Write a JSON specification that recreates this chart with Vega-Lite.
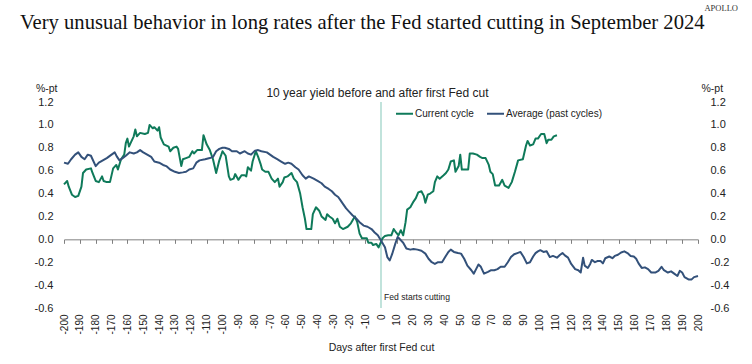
{
  "$schema": "https://vega.github.io/schema/vega-lite/v6.json",
  "width": 634,
  "height": 206,
  "autosize": {"type": "none"},
  "padding": {"left": 64, "top": 102, "right": 54, "bottom": 56},
  "background": "white",
  "config": {
    "view": {"stroke": null},
    "font": "Liberation Sans",
    "axis": {"grid": false, "labelColor": "#222222", "titleColor": "#222222", "titleFontWeight": "normal", "labelFont": "Liberation Sans", "titleFont": "Liberation Sans"}
  },
  "title": {
    "text": "Very unusual behavior in long rates after the Fed started cutting in September 2024",
    "font": "Liberation Serif",
    "fontSize": 20.6,
    "fontWeight": "normal",
    "color": "#111111",
    "anchor": "start",
    "frame": "group",
    "dx": -44,
    "offset": -30
  },
  "layer": [
    {
      "data": {"values": [{}]},
      "mark": {"type": "rule", "color": "#98d0c4", "strokeWidth": 1.2},
      "encoding": {
        "x": {
          "datum": 0,
          "type": "quantitative",
          "scale": {"domain": [-200, 200], "nice": false, "zero": false},
          "axis": {
            "orient": "bottom",
            "offset": -68.67,
            "labels": false,
            "title": null,
            "domain": true,
            "domainColor": "#808080",
            "domainWidth": 1,
            "ticks": true,
            "tickColor": "#808080",
            "tickSize": 4,
            "values": [-200,-190,-180,-170,-160,-150,-140,-130,-120,-110,-100,-90,-80,-70,-60,-50,-40,-30,-20,-10,0,10,20,30,40,50,60,70,80,90,100,110,120,130,140,150,160,170,180,190,200]
          }
        }
      }
    },
    {
      "data": {
        "values": [
          {"d": -200, "v": 0.48, "s": "Current cycle"},
          {"d": -198, "v": 0.51, "s": "Current cycle"},
          {"d": -197, "v": 0.46, "s": "Current cycle"},
          {"d": -195, "v": 0.39, "s": "Current cycle"},
          {"d": -193, "v": 0.37, "s": "Current cycle"},
          {"d": -191, "v": 0.38, "s": "Current cycle"},
          {"d": -189, "v": 0.46, "s": "Current cycle"},
          {"d": -188, "v": 0.58, "s": "Current cycle"},
          {"d": -186, "v": 0.61, "s": "Current cycle"},
          {"d": -183, "v": 0.62, "s": "Current cycle"},
          {"d": -182, "v": 0.58, "s": "Current cycle"},
          {"d": -180, "v": 0.51, "s": "Current cycle"},
          {"d": -178, "v": 0.50, "s": "Current cycle"},
          {"d": -176, "v": 0.55, "s": "Current cycle"},
          {"d": -175, "v": 0.51, "s": "Current cycle"},
          {"d": -173, "v": 0.50, "s": "Current cycle"},
          {"d": -171, "v": 0.50, "s": "Current cycle"},
          {"d": -169, "v": 0.62, "s": "Current cycle"},
          {"d": -167, "v": 0.65, "s": "Current cycle"},
          {"d": -166, "v": 0.61, "s": "Current cycle"},
          {"d": -164, "v": 0.70, "s": "Current cycle"},
          {"d": -162, "v": 0.74, "s": "Current cycle"},
          {"d": -161, "v": 0.84, "s": "Current cycle"},
          {"d": -160, "v": 0.88, "s": "Current cycle"},
          {"d": -159, "v": 0.81, "s": "Current cycle"},
          {"d": -158, "v": 0.84, "s": "Current cycle"},
          {"d": -156, "v": 0.90, "s": "Current cycle"},
          {"d": -155, "v": 0.96, "s": "Current cycle"},
          {"d": -154, "v": 0.90, "s": "Current cycle"},
          {"d": -152, "v": 0.93, "s": "Current cycle"},
          {"d": -149, "v": 0.92, "s": "Current cycle"},
          {"d": -147, "v": 0.93, "s": "Current cycle"},
          {"d": -146, "v": 1.00, "s": "Current cycle"},
          {"d": -144, "v": 0.97, "s": "Current cycle"},
          {"d": -143, "v": 0.98, "s": "Current cycle"},
          {"d": -141, "v": 0.95, "s": "Current cycle"},
          {"d": -140, "v": 0.98, "s": "Current cycle"},
          {"d": -139, "v": 0.89, "s": "Current cycle"},
          {"d": -137, "v": 0.83, "s": "Current cycle"},
          {"d": -134, "v": 0.81, "s": "Current cycle"},
          {"d": -133, "v": 0.77, "s": "Current cycle"},
          {"d": -131, "v": 0.80, "s": "Current cycle"},
          {"d": -129, "v": 0.81, "s": "Current cycle"},
          {"d": -128, "v": 0.79, "s": "Current cycle"},
          {"d": -126, "v": 0.64, "s": "Current cycle"},
          {"d": -125, "v": 0.70, "s": "Current cycle"},
          {"d": -123, "v": 0.71, "s": "Current cycle"},
          {"d": -121, "v": 0.72, "s": "Current cycle"},
          {"d": -119, "v": 0.77, "s": "Current cycle"},
          {"d": -118, "v": 0.75, "s": "Current cycle"},
          {"d": -116, "v": 0.78, "s": "Current cycle"},
          {"d": -113, "v": 0.78, "s": "Current cycle"},
          {"d": -112, "v": 0.91, "s": "Current cycle"},
          {"d": -110, "v": 0.83, "s": "Current cycle"},
          {"d": -108, "v": 0.78, "s": "Current cycle"},
          {"d": -106, "v": 0.70, "s": "Current cycle"},
          {"d": -104, "v": 0.58, "s": "Current cycle"},
          {"d": -102, "v": 0.69, "s": "Current cycle"},
          {"d": -100, "v": 0.77, "s": "Current cycle"},
          {"d": -98, "v": 0.73, "s": "Current cycle"},
          {"d": -96, "v": 0.55, "s": "Current cycle"},
          {"d": -95, "v": 0.52, "s": "Current cycle"},
          {"d": -93, "v": 0.53, "s": "Current cycle"},
          {"d": -92, "v": 0.57, "s": "Current cycle"},
          {"d": -90, "v": 0.52, "s": "Current cycle"},
          {"d": -88, "v": 0.56, "s": "Current cycle"},
          {"d": -86, "v": 0.56, "s": "Current cycle"},
          {"d": -85, "v": 0.55, "s": "Current cycle"},
          {"d": -84, "v": 0.63, "s": "Current cycle"},
          {"d": -82, "v": 0.60, "s": "Current cycle"},
          {"d": -81, "v": 0.68, "s": "Current cycle"},
          {"d": -79, "v": 0.77, "s": "Current cycle"},
          {"d": -77.5, "v": 0.72, "s": "Current cycle"},
          {"d": -76, "v": 0.66, "s": "Current cycle"},
          {"d": -75, "v": 0.61, "s": "Current cycle"},
          {"d": -73, "v": 0.59, "s": "Current cycle"},
          {"d": -71, "v": 0.59, "s": "Current cycle"},
          {"d": -69, "v": 0.53, "s": "Current cycle"},
          {"d": -67, "v": 0.50, "s": "Current cycle"},
          {"d": -65, "v": 0.53, "s": "Current cycle"},
          {"d": -64, "v": 0.46, "s": "Current cycle"},
          {"d": -62, "v": 0.50, "s": "Current cycle"},
          {"d": -61, "v": 0.54, "s": "Current cycle"},
          {"d": -59, "v": 0.55, "s": "Current cycle"},
          {"d": -56.5, "v": 0.58, "s": "Current cycle"},
          {"d": -55, "v": 0.53, "s": "Current cycle"},
          {"d": -53, "v": 0.50, "s": "Current cycle"},
          {"d": -51, "v": 0.40, "s": "Current cycle"},
          {"d": -49.5, "v": 0.28, "s": "Current cycle"},
          {"d": -48, "v": 0.18, "s": "Current cycle"},
          {"d": -47, "v": 0.09, "s": "Current cycle"},
          {"d": -44, "v": 0.09, "s": "Current cycle"},
          {"d": -43, "v": 0.22, "s": "Current cycle"},
          {"d": -41, "v": 0.28, "s": "Current cycle"},
          {"d": -39, "v": 0.25, "s": "Current cycle"},
          {"d": -37.5, "v": 0.20, "s": "Current cycle"},
          {"d": -35, "v": 0.17, "s": "Current cycle"},
          {"d": -34, "v": 0.22, "s": "Current cycle"},
          {"d": -32.5, "v": 0.20, "s": "Current cycle"},
          {"d": -30.5, "v": 0.18, "s": "Current cycle"},
          {"d": -29, "v": 0.14, "s": "Current cycle"},
          {"d": -27.5, "v": 0.18, "s": "Current cycle"},
          {"d": -26, "v": 0.11, "s": "Current cycle"},
          {"d": -24, "v": 0.09, "s": "Current cycle"},
          {"d": -21, "v": 0.11, "s": "Current cycle"},
          {"d": -19, "v": 0.14, "s": "Current cycle"},
          {"d": -16.5, "v": 0.20, "s": "Current cycle"},
          {"d": -15, "v": 0.15, "s": "Current cycle"},
          {"d": -13.5, "v": 0.05, "s": "Current cycle"},
          {"d": -12, "v": 0.01, "s": "Current cycle"},
          {"d": -9, "v": 0.01, "s": "Current cycle"},
          {"d": -8, "v": -0.03, "s": "Current cycle"},
          {"d": -6, "v": -0.03, "s": "Current cycle"},
          {"d": -5, "v": -0.05, "s": "Current cycle"},
          {"d": -3, "v": -0.04, "s": "Current cycle"},
          {"d": -1.5, "v": -0.07, "s": "Current cycle"},
          {"d": 1, "v": 0.01, "s": "Current cycle"},
          {"d": 2.5, "v": 0.03, "s": "Current cycle"},
          {"d": 4.5, "v": 0.035, "s": "Current cycle"},
          {"d": 6.5, "v": 0.035, "s": "Current cycle"},
          {"d": 8, "v": 0.09, "s": "Current cycle"},
          {"d": 9.5, "v": 0.06, "s": "Current cycle"},
          {"d": 11, "v": 0.035, "s": "Current cycle"},
          {"d": 12.5, "v": 0.08, "s": "Current cycle"},
          {"d": 14, "v": 0.035, "s": "Current cycle"},
          {"d": 15.5, "v": 0.15, "s": "Current cycle"},
          {"d": 16.5, "v": 0.26, "s": "Current cycle"},
          {"d": 18.5, "v": 0.28, "s": "Current cycle"},
          {"d": 20.5, "v": 0.33, "s": "Current cycle"},
          {"d": 22, "v": 0.36, "s": "Current cycle"},
          {"d": 23.5, "v": 0.41, "s": "Current cycle"},
          {"d": 25.5, "v": 0.42, "s": "Current cycle"},
          {"d": 27, "v": 0.38, "s": "Current cycle"},
          {"d": 28, "v": 0.32, "s": "Current cycle"},
          {"d": 29.5, "v": 0.39, "s": "Current cycle"},
          {"d": 31, "v": 0.40, "s": "Current cycle"},
          {"d": 33, "v": 0.42, "s": "Current cycle"},
          {"d": 34, "v": 0.50, "s": "Current cycle"},
          {"d": 35.5, "v": 0.55, "s": "Current cycle"},
          {"d": 37, "v": 0.53, "s": "Current cycle"},
          {"d": 39.5, "v": 0.56, "s": "Current cycle"},
          {"d": 41, "v": 0.58, "s": "Current cycle"},
          {"d": 42.5, "v": 0.61, "s": "Current cycle"},
          {"d": 44, "v": 0.68, "s": "Current cycle"},
          {"d": 46, "v": 0.69, "s": "Current cycle"},
          {"d": 47, "v": 0.59, "s": "Current cycle"},
          {"d": 49, "v": 0.64, "s": "Current cycle"},
          {"d": 50, "v": 0.74, "s": "Current cycle"},
          {"d": 51, "v": 0.61, "s": "Current cycle"},
          {"d": 53, "v": 0.61, "s": "Current cycle"},
          {"d": 55, "v": 0.61, "s": "Current cycle"},
          {"d": 56, "v": 0.75, "s": "Current cycle"},
          {"d": 58, "v": 0.75, "s": "Current cycle"},
          {"d": 60.5, "v": 0.74, "s": "Current cycle"},
          {"d": 62.5, "v": 0.72, "s": "Current cycle"},
          {"d": 64, "v": 0.71, "s": "Current cycle"},
          {"d": 66, "v": 0.71, "s": "Current cycle"},
          {"d": 68, "v": 0.65, "s": "Current cycle"},
          {"d": 69, "v": 0.59, "s": "Current cycle"},
          {"d": 70.5, "v": 0.57, "s": "Current cycle"},
          {"d": 72, "v": 0.47, "s": "Current cycle"},
          {"d": 74.5, "v": 0.47, "s": "Current cycle"},
          {"d": 76.5, "v": 0.52, "s": "Current cycle"},
          {"d": 78, "v": 0.47, "s": "Current cycle"},
          {"d": 80.5, "v": 0.45, "s": "Current cycle"},
          {"d": 82.5, "v": 0.50, "s": "Current cycle"},
          {"d": 84.5, "v": 0.59, "s": "Current cycle"},
          {"d": 86.5, "v": 0.69, "s": "Current cycle"},
          {"d": 89.5, "v": 0.70, "s": "Current cycle"},
          {"d": 91.5, "v": 0.82, "s": "Current cycle"},
          {"d": 92.5, "v": 0.86, "s": "Current cycle"},
          {"d": 94, "v": 0.82, "s": "Current cycle"},
          {"d": 96, "v": 0.83, "s": "Current cycle"},
          {"d": 97.5, "v": 0.88, "s": "Current cycle"},
          {"d": 99, "v": 0.88, "s": "Current cycle"},
          {"d": 101, "v": 0.92, "s": "Current cycle"},
          {"d": 103, "v": 0.92, "s": "Current cycle"},
          {"d": 104.5, "v": 0.84, "s": "Current cycle"},
          {"d": 105.5, "v": 0.87, "s": "Current cycle"},
          {"d": 107.5, "v": 0.87, "s": "Current cycle"},
          {"d": 109, "v": 0.90, "s": "Current cycle"},
          {"d": 111, "v": 0.91, "s": "Current cycle"},
          {"d": -200, "v": 0.67, "s": "Average (past cycles)"},
          {"d": -197.5, "v": 0.66, "s": "Average (past cycles)"},
          {"d": -195.5, "v": 0.70, "s": "Average (past cycles)"},
          {"d": -193, "v": 0.74, "s": "Average (past cycles)"},
          {"d": -191, "v": 0.76, "s": "Average (past cycles)"},
          {"d": -189, "v": 0.72, "s": "Average (past cycles)"},
          {"d": -187, "v": 0.70, "s": "Average (past cycles)"},
          {"d": -185, "v": 0.74, "s": "Average (past cycles)"},
          {"d": -183, "v": 0.73, "s": "Average (past cycles)"},
          {"d": -182, "v": 0.70, "s": "Average (past cycles)"},
          {"d": -180, "v": 0.64, "s": "Average (past cycles)"},
          {"d": -178, "v": 0.67, "s": "Average (past cycles)"},
          {"d": -175.5, "v": 0.69, "s": "Average (past cycles)"},
          {"d": -173, "v": 0.71, "s": "Average (past cycles)"},
          {"d": -170, "v": 0.74, "s": "Average (past cycles)"},
          {"d": -168, "v": 0.76, "s": "Average (past cycles)"},
          {"d": -166.5, "v": 0.72, "s": "Average (past cycles)"},
          {"d": -165, "v": 0.69, "s": "Average (past cycles)"},
          {"d": -163, "v": 0.71, "s": "Average (past cycles)"},
          {"d": -161, "v": 0.73, "s": "Average (past cycles)"},
          {"d": -158.5, "v": 0.76, "s": "Average (past cycles)"},
          {"d": -156, "v": 0.75, "s": "Average (past cycles)"},
          {"d": -154, "v": 0.76, "s": "Average (past cycles)"},
          {"d": -152, "v": 0.78, "s": "Average (past cycles)"},
          {"d": -150, "v": 0.76, "s": "Average (past cycles)"},
          {"d": -147.5, "v": 0.74, "s": "Average (past cycles)"},
          {"d": -145, "v": 0.72, "s": "Average (past cycles)"},
          {"d": -143, "v": 0.68, "s": "Average (past cycles)"},
          {"d": -140, "v": 0.67, "s": "Average (past cycles)"},
          {"d": -137.5, "v": 0.65, "s": "Average (past cycles)"},
          {"d": -135.5, "v": 0.64, "s": "Average (past cycles)"},
          {"d": -133, "v": 0.61, "s": "Average (past cycles)"},
          {"d": -130, "v": 0.59, "s": "Average (past cycles)"},
          {"d": -127.5, "v": 0.58, "s": "Average (past cycles)"},
          {"d": -125, "v": 0.585, "s": "Average (past cycles)"},
          {"d": -123, "v": 0.59, "s": "Average (past cycles)"},
          {"d": -121, "v": 0.61, "s": "Average (past cycles)"},
          {"d": -118.5, "v": 0.62, "s": "Average (past cycles)"},
          {"d": -116.5, "v": 0.67, "s": "Average (past cycles)"},
          {"d": -114.5, "v": 0.69, "s": "Average (past cycles)"},
          {"d": -111, "v": 0.70, "s": "Average (past cycles)"},
          {"d": -108, "v": 0.71, "s": "Average (past cycles)"},
          {"d": -106, "v": 0.72, "s": "Average (past cycles)"},
          {"d": -104, "v": 0.77, "s": "Average (past cycles)"},
          {"d": -102, "v": 0.79, "s": "Average (past cycles)"},
          {"d": -100, "v": 0.80, "s": "Average (past cycles)"},
          {"d": -98.5, "v": 0.80, "s": "Average (past cycles)"},
          {"d": -96, "v": 0.79, "s": "Average (past cycles)"},
          {"d": -94, "v": 0.77, "s": "Average (past cycles)"},
          {"d": -91, "v": 0.77, "s": "Average (past cycles)"},
          {"d": -89, "v": 0.75, "s": "Average (past cycles)"},
          {"d": -86, "v": 0.77, "s": "Average (past cycles)"},
          {"d": -84, "v": 0.75, "s": "Average (past cycles)"},
          {"d": -82, "v": 0.74, "s": "Average (past cycles)"},
          {"d": -79.5, "v": 0.775, "s": "Average (past cycles)"},
          {"d": -77.5, "v": 0.78, "s": "Average (past cycles)"},
          {"d": -75.5, "v": 0.77, "s": "Average (past cycles)"},
          {"d": -72, "v": 0.76, "s": "Average (past cycles)"},
          {"d": -70, "v": 0.74, "s": "Average (past cycles)"},
          {"d": -68, "v": 0.72, "s": "Average (past cycles)"},
          {"d": -65.5, "v": 0.70, "s": "Average (past cycles)"},
          {"d": -63, "v": 0.68, "s": "Average (past cycles)"},
          {"d": -60.5, "v": 0.66, "s": "Average (past cycles)"},
          {"d": -58.5, "v": 0.67, "s": "Average (past cycles)"},
          {"d": -56.5, "v": 0.66, "s": "Average (past cycles)"},
          {"d": -54, "v": 0.63, "s": "Average (past cycles)"},
          {"d": -52, "v": 0.61, "s": "Average (past cycles)"},
          {"d": -49.5, "v": 0.56, "s": "Average (past cycles)"},
          {"d": -47.5, "v": 0.53, "s": "Average (past cycles)"},
          {"d": -45.5, "v": 0.55, "s": "Average (past cycles)"},
          {"d": -42.5, "v": 0.53, "s": "Average (past cycles)"},
          {"d": -40, "v": 0.51, "s": "Average (past cycles)"},
          {"d": -37.5, "v": 0.49, "s": "Average (past cycles)"},
          {"d": -35.5, "v": 0.46, "s": "Average (past cycles)"},
          {"d": -33, "v": 0.44, "s": "Average (past cycles)"},
          {"d": -31, "v": 0.42, "s": "Average (past cycles)"},
          {"d": -29, "v": 0.39, "s": "Average (past cycles)"},
          {"d": -27, "v": 0.37, "s": "Average (past cycles)"},
          {"d": -25.5, "v": 0.34, "s": "Average (past cycles)"},
          {"d": -24, "v": 0.31, "s": "Average (past cycles)"},
          {"d": -22, "v": 0.27, "s": "Average (past cycles)"},
          {"d": -20, "v": 0.24, "s": "Average (past cycles)"},
          {"d": -18, "v": 0.21, "s": "Average (past cycles)"},
          {"d": -15.5, "v": 0.18, "s": "Average (past cycles)"},
          {"d": -13.5, "v": 0.15, "s": "Average (past cycles)"},
          {"d": -11, "v": 0.12, "s": "Average (past cycles)"},
          {"d": -8.5, "v": 0.11, "s": "Average (past cycles)"},
          {"d": -6, "v": 0.09, "s": "Average (past cycles)"},
          {"d": -4, "v": 0.06, "s": "Average (past cycles)"},
          {"d": -2, "v": 0.035, "s": "Average (past cycles)"},
          {"d": 0, "v": -0.01, "s": "Average (past cycles)"},
          {"d": 2.5, "v": -0.07, "s": "Average (past cycles)"},
          {"d": 4, "v": -0.155, "s": "Average (past cycles)"},
          {"d": 5.5, "v": -0.185, "s": "Average (past cycles)"},
          {"d": 7, "v": -0.13, "s": "Average (past cycles)"},
          {"d": 9, "v": -0.04, "s": "Average (past cycles)"},
          {"d": 10.5, "v": 0.02, "s": "Average (past cycles)"},
          {"d": 12, "v": 0.0, "s": "Average (past cycles)"},
          {"d": 14, "v": -0.03, "s": "Average (past cycles)"},
          {"d": 16, "v": -0.08, "s": "Average (past cycles)"},
          {"d": 18.5, "v": -0.09, "s": "Average (past cycles)"},
          {"d": 20.5, "v": -0.085, "s": "Average (past cycles)"},
          {"d": 23, "v": -0.09, "s": "Average (past cycles)"},
          {"d": 25.5, "v": -0.10, "s": "Average (past cycles)"},
          {"d": 28, "v": -0.125, "s": "Average (past cycles)"},
          {"d": 30, "v": -0.17, "s": "Average (past cycles)"},
          {"d": 32, "v": -0.20, "s": "Average (past cycles)"},
          {"d": 34, "v": -0.215, "s": "Average (past cycles)"},
          {"d": 36, "v": -0.20, "s": "Average (past cycles)"},
          {"d": 38.5, "v": -0.20, "s": "Average (past cycles)"},
          {"d": 40.5, "v": -0.155, "s": "Average (past cycles)"},
          {"d": 42.5, "v": -0.11, "s": "Average (past cycles)"},
          {"d": 44, "v": -0.09, "s": "Average (past cycles)"},
          {"d": 46, "v": -0.11, "s": "Average (past cycles)"},
          {"d": 48.5, "v": -0.12, "s": "Average (past cycles)"},
          {"d": 50.5, "v": -0.125, "s": "Average (past cycles)"},
          {"d": 52.5, "v": -0.17, "s": "Average (past cycles)"},
          {"d": 54.5, "v": -0.23, "s": "Average (past cycles)"},
          {"d": 57, "v": -0.27, "s": "Average (past cycles)"},
          {"d": 58.5, "v": -0.30, "s": "Average (past cycles)"},
          {"d": 60, "v": -0.26, "s": "Average (past cycles)"},
          {"d": 61.5, "v": -0.22, "s": "Average (past cycles)"},
          {"d": 63, "v": -0.24, "s": "Average (past cycles)"},
          {"d": 65, "v": -0.30, "s": "Average (past cycles)"},
          {"d": 67.5, "v": -0.285, "s": "Average (past cycles)"},
          {"d": 69.5, "v": -0.27, "s": "Average (past cycles)"},
          {"d": 71.5, "v": -0.27, "s": "Average (past cycles)"},
          {"d": 73.5, "v": -0.26, "s": "Average (past cycles)"},
          {"d": 75.5, "v": -0.24, "s": "Average (past cycles)"},
          {"d": 78, "v": -0.24, "s": "Average (past cycles)"},
          {"d": 80, "v": -0.20, "s": "Average (past cycles)"},
          {"d": 82, "v": -0.155, "s": "Average (past cycles)"},
          {"d": 84, "v": -0.13, "s": "Average (past cycles)"},
          {"d": 86, "v": -0.12, "s": "Average (past cycles)"},
          {"d": 88, "v": -0.11, "s": "Average (past cycles)"},
          {"d": 90, "v": -0.155, "s": "Average (past cycles)"},
          {"d": 92, "v": -0.21, "s": "Average (past cycles)"},
          {"d": 94, "v": -0.20, "s": "Average (past cycles)"},
          {"d": 96, "v": -0.15, "s": "Average (past cycles)"},
          {"d": 97.5, "v": -0.12, "s": "Average (past cycles)"},
          {"d": 99, "v": -0.105, "s": "Average (past cycles)"},
          {"d": 100.5, "v": -0.095, "s": "Average (past cycles)"},
          {"d": 102.5, "v": -0.11, "s": "Average (past cycles)"},
          {"d": 104.5, "v": -0.105, "s": "Average (past cycles)"},
          {"d": 106.5, "v": -0.155, "s": "Average (past cycles)"},
          {"d": 108.5, "v": -0.145, "s": "Average (past cycles)"},
          {"d": 111, "v": -0.16, "s": "Average (past cycles)"},
          {"d": 113, "v": -0.135, "s": "Average (past cycles)"},
          {"d": 114.5, "v": -0.12, "s": "Average (past cycles)"},
          {"d": 116, "v": -0.14, "s": "Average (past cycles)"},
          {"d": 118, "v": -0.16, "s": "Average (past cycles)"},
          {"d": 120, "v": -0.215, "s": "Average (past cycles)"},
          {"d": 122.5, "v": -0.26, "s": "Average (past cycles)"},
          {"d": 124.5, "v": -0.27, "s": "Average (past cycles)"},
          {"d": 126, "v": -0.29, "s": "Average (past cycles)"},
          {"d": 127.5, "v": -0.16, "s": "Average (past cycles)"},
          {"d": 128.5, "v": -0.23, "s": "Average (past cycles)"},
          {"d": 130.5, "v": -0.25, "s": "Average (past cycles)"},
          {"d": 132, "v": -0.215, "s": "Average (past cycles)"},
          {"d": 133, "v": -0.18, "s": "Average (past cycles)"},
          {"d": 135, "v": -0.20, "s": "Average (past cycles)"},
          {"d": 136.5, "v": -0.19, "s": "Average (past cycles)"},
          {"d": 138.5, "v": -0.19, "s": "Average (past cycles)"},
          {"d": 140, "v": -0.21, "s": "Average (past cycles)"},
          {"d": 141.5, "v": -0.165, "s": "Average (past cycles)"},
          {"d": 144, "v": -0.15, "s": "Average (past cycles)"},
          {"d": 146, "v": -0.165, "s": "Average (past cycles)"},
          {"d": 147.5, "v": -0.145, "s": "Average (past cycles)"},
          {"d": 149.5, "v": -0.135, "s": "Average (past cycles)"},
          {"d": 151.5, "v": -0.115, "s": "Average (past cycles)"},
          {"d": 153.5, "v": -0.105, "s": "Average (past cycles)"},
          {"d": 155.5, "v": -0.12, "s": "Average (past cycles)"},
          {"d": 157.5, "v": -0.145, "s": "Average (past cycles)"},
          {"d": 159.5, "v": -0.15, "s": "Average (past cycles)"},
          {"d": 161, "v": -0.17, "s": "Average (past cycles)"},
          {"d": 162.5, "v": -0.21, "s": "Average (past cycles)"},
          {"d": 164.5, "v": -0.25, "s": "Average (past cycles)"},
          {"d": 166.5, "v": -0.245, "s": "Average (past cycles)"},
          {"d": 168.5, "v": -0.26, "s": "Average (past cycles)"},
          {"d": 170.5, "v": -0.29, "s": "Average (past cycles)"},
          {"d": 173, "v": -0.29, "s": "Average (past cycles)"},
          {"d": 175, "v": -0.275, "s": "Average (past cycles)"},
          {"d": 177, "v": -0.24, "s": "Average (past cycles)"},
          {"d": 178.5, "v": -0.27, "s": "Average (past cycles)"},
          {"d": 181, "v": -0.29, "s": "Average (past cycles)"},
          {"d": 183, "v": -0.28, "s": "Average (past cycles)"},
          {"d": 185, "v": -0.30, "s": "Average (past cycles)"},
          {"d": 187, "v": -0.32, "s": "Average (past cycles)"},
          {"d": 188.5, "v": -0.275, "s": "Average (past cycles)"},
          {"d": 190, "v": -0.29, "s": "Average (past cycles)"},
          {"d": 191.5, "v": -0.33, "s": "Average (past cycles)"},
          {"d": 194, "v": -0.35, "s": "Average (past cycles)"},
          {"d": 196, "v": -0.35, "s": "Average (past cycles)"},
          {"d": 197.5, "v": -0.33, "s": "Average (past cycles)"},
          {"d": 200, "v": -0.32, "s": "Average (past cycles)"}
        ]
      },
      "mark": {"type": "line", "strokeWidth": 2, "strokeJoin": "round"},
      "encoding": {
        "x": {
          "field": "d",
          "type": "quantitative",
          "scale": {"domain": [-200, 200], "nice": false, "zero": false},
          "axis": {
            "orient": "bottom",
            "title": "Days after first Fed cut",
            "titleFontSize": 10.5,
            "titlePadding": 8,
            "domain": false,
            "ticks": false,
            "labelAngle": -90,
            "labelFontSize": 10,
            "labelPadding": 6,
            "labelExpr": "replace(format(datum.value, 'd'), '\u2212', '-')",
            "values": [-200,-190,-180,-170,-160,-150,-140,-130,-120,-110,-100,-90,-80,-70,-60,-50,-40,-30,-20,-10,0,10,20,30,40,50,60,70,80,90,100,110,120,130,140,150,160,170,180,190,200]
          }
        },
        "y": {
          "field": "v",
          "type": "quantitative",
          "scale": {"domain": [-0.6, 1.2], "nice": false, "zero": false},
          "axis": {
            "orient": "left",
            "values": [-0.6, -0.4, -0.2, 0, 0.2, 0.4, 0.6, 0.8, 1.0, 1.2],
            "labelExpr": "replace(format(datum.value, '.1f'), '\u2212', '-')",
            "labelFontSize": 11,
            "labelPadding": 11,
            "domain": false,
            "ticks": false,
            "title": "%-pt",
            "titleFontSize": 10.5,
            "titleAngle": 0,
            "titleAlign": "right",
            "titleBaseline": "alphabetic",
            "titleX": -7,
            "titleY": -11
          }
        },
        "color": {
          "field": "s",
          "type": "nominal",
          "scale": {"domain": ["Current cycle", "Average (past cycles)"], "range": ["#0f7a5a", "#33517a"]},
          "legend": {
            "orient": "none",
            "legendX": 331,
            "legendY": 2,
            "direction": "horizontal",
            "title": null,
            "symbolType": "stroke",
            "symbolSize": 289,
            "symbolStrokeWidth": 2,
            "labelFontSize": 10,
            "labelOffset": 1,
            "columnPadding": 9,
            "labelColor": "#222222"
          }
        }
      }
    },
    {
      "data": {"values": [{}]},
      "mark": {"type": "text", "align": "left", "baseline": "middle", "dx": 3, "font": "Liberation Sans", "fontSize": 8.6, "color": "#222222"},
      "encoding": {
        "x": {
          "datum": 0,
          "type": "quantitative",
          "axis": {
            "orient": "top",
            "labels": false,
            "ticks": false,
            "domain": false,
            "title": "10 year yield before and after first Fed cut",
            "titleFontSize": 12,
            "titleBaseline": "alphabetic",
            "titleX": 313,
            "titleY": -6
          }
        },
        "y": {
          "datum": -0.5,
          "type": "quantitative",
          "axis": {
            "orient": "right",
            "values": [-0.6, -0.4, -0.2, 0, 0.2, 0.4, 0.6, 0.8, 1.0, 1.2],
            "labelExpr": "replace(format(datum.value, '.1f'), '\u2212', '-')",
            "labelFontSize": 11,
            "labelPadding": 12,
            "domain": false,
            "ticks": false,
            "title": "%-pt",
            "titleFontSize": 10.5,
            "titleAngle": 0,
            "titleAlign": "left",
            "titleBaseline": "alphabetic",
            "titleX": 3,
            "titleY": -11
          }
        },
        "text": {"value": "Fed starts cutting"}
      }
    },
    {
      "data": {"values": [{}]},
      "mark": {"type": "text", "align": "right", "baseline": "middle", "dx": 40, "dy": -94, "font": "Liberation Serif", "fontSize": 8.5, "color": "#333333"},
      "encoding": {
        "x": {"datum": 200, "type": "quantitative", "axis": null},
        "y": {"datum": 1.2, "type": "quantitative", "axis": null},
        "text": {"value": "APOLLO"}
      }
    }
  ],
  "resolve": {"axis": {"x": "independent", "y": "independent"}}
}
